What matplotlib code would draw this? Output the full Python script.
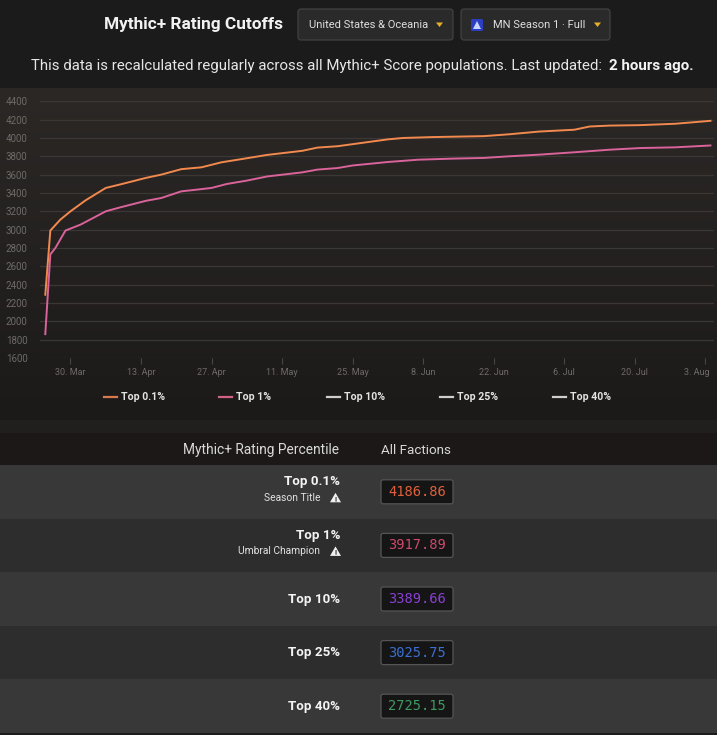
import numpy as np
import pandas as pd
import matplotlib
matplotlib.use("Agg")
import matplotlib.pyplot as plt
import matplotlib.dates as md
import matplotlib.transforms as mtrans
from matplotlib.patches import Rectangle, FancyBboxPatch, Polygon
from matplotlib.lines import Line2D
from matplotlib.ticker import FuncFormatter, MultipleLocator

plt.rcParams["font.family"] = ["Roboto", "DejaVu Sans"]

# ---- data ----
top01_dates = ["2026-03-25", "2026-03-26", "2026-03-28", "2026-03-30", "2026-04-02",
               "2026-04-06", "2026-04-09", "2026-04-14", "2026-04-17", "2026-04-21",
               "2026-04-25", "2026-04-29", "2026-05-03", "2026-05-08", "2026-05-15",
               "2026-05-18", "2026-05-22", "2026-05-28", "2026-06-01", "2026-06-04",
               "2026-06-10", "2026-06-20", "2026-06-25", "2026-07-01", "2026-07-08",
               "2026-07-11", "2026-07-15", "2026-07-21", "2026-07-28", "2026-08-04"]
top01_vals = [2290, 2990, 3110, 3200, 3320, 3455, 3495, 3565, 3600, 3660,
              3680, 3735, 3770, 3815, 3860, 3895, 3910, 3955, 3985, 4000,
              4010, 4020, 4040, 4070, 4090, 4125, 4135, 4140, 4155, 4187]

top1_dates = ["2026-03-25", "2026-03-26", "2026-03-27", "2026-03-29", "2026-04-01",
              "2026-04-06", "2026-04-09", "2026-04-14", "2026-04-17", "2026-04-21",
              "2026-04-24", "2026-04-27", "2026-04-30", "2026-05-04", "2026-05-08",
              "2026-05-15", "2026-05-18", "2026-05-22", "2026-05-25", "2026-06-01",
              "2026-06-07", "2026-06-14", "2026-06-20", "2026-06-25", "2026-07-01",
              "2026-07-08", "2026-07-15", "2026-07-21", "2026-07-28", "2026-08-04"]
top1_vals = [1860, 2730, 2800, 2990, 3055, 3200, 3245, 3315, 3345, 3418,
             3436, 3455, 3498, 3535, 3580, 3625, 3655, 3672, 3700, 3738,
             3763, 3775, 3782, 3800, 3818, 3844, 3872, 3890, 3898, 3918]

series_names = ["Top 0.1%", "Top 1%", "Top 10%", "Top 25%", "Top 40%"]
legend_colors = ["#d9794f", "#cf6286", "#cfcfcf", "#cfcfcf", "#cfcfcf"]

table_labels = ["Top 0.1%", "Top 1%", "Top 10%", "Top 25%", "Top 40%"]
table_notes = ["Season Title", "Umbral Champion", "", "", ""]
table_values = ["4186.86", "3917.89", "3389.66", "3025.75", "2725.15"]
value_colors = ["#e0603c", "#cc4a6c", "#8a3fd4", "#3d6fd0", "#3f9a62"]

W, H = 717, 735
fig = plt.figure(figsize=(W / 100, H / 100), dpi=100, facecolor="#1b1b1b")
renderer = fig.canvas.get_renderer()


def px(x):
    return x / W


def py(y):
    return 1 - y / H


def put(x, y, s, width=None, size=9, **kw):
    t = fig.text(px(x), py(y), s, fontsize=size, **kw)
    if width:
        bb = t.get_window_extent(renderer)
        t.set_fontsize(size * width / bb.width)
    return t


def rect(x0, y0, x1, y1, color, **kw):
    fig.patches.append(Rectangle((px(x0), py(y1)), px(x1) - px(x0), py(y0) - py(y1),
                                 transform=fig.transFigure, facecolor=color,
                                 edgecolor="none", **kw))


# ---- header ----
put(104, 25, "Mythic+ Rating Cutoffs", width=179, size=12, weight="bold",
    color="#f2f2f2", va="center")
for x0, x1 in [(298, 453), (461, 610)]:
    fig.patches.append(FancyBboxPatch((px(x0), py(40)), px(x1) - px(x0), py(9) - py(40),
                                      boxstyle="round,pad=0,rounding_size=0.004",
                                      transform=fig.transFigure, facecolor="#2a2a2a",
                                      edgecolor="#454545", lw=0.8))
put(309, 25, "United States & Oceania", width=119, size=8, color="#dedede", va="center")
put(493, 25, "MN Season 1 · Full", width=93, size=8, color="#dedede", va="center")
for ax0 in [436, 594]:
    fig.patches.append(Polygon([(px(ax0), py(22.5)), (px(ax0 + 7), py(22.5)),
                                (px(ax0 + 3.5), py(27))], closed=True,
                               transform=fig.transFigure, facecolor="#e8b02a",
                               edgecolor="none"))
# season icon
fig.patches.append(FancyBboxPatch((px(471), py(31)), px(12) - px(0), py(19) - py(31),
                                  boxstyle="round,pad=0,rounding_size=0.002",
                                  transform=fig.transFigure, facecolor="#2c3fc0",
                                  edgecolor="none"))
fig.patches.append(Polygon([(px(473), py(29)), (px(481), py(29)), (px(477), py(21))],
                           closed=True, transform=fig.transFigure,
                           facecolor="#c9d3ff", edgecolor="none"))

put(606, 66, "This data is recalculated regularly across all Mythic+ Score populations. Last updated: ",
    width=577, size=10, color="#e6e6e6", va="center", ha="right")
put(609, 66, "2 hours ago.", width=85, size=10, weight="bold", color="#f4f4f4",
    va="center")

# ---- chart background (gradient) ----
bg = fig.add_axes([0, py(420), 1, py(88) - py(420)])
grad = np.linspace(0, 1, 256).reshape(-1, 1)
top_c = np.array([0x2b, 0x28, 0x26]) / 255
bot_c = np.array([0x1c, 0x1a, 0x19]) / 255
img = top_c[None, None, :] * (1 - grad[:, :, None]) + bot_c[None, None, :] * grad[:, :, None]
bg.imshow(img, aspect="auto", extent=[0, 1, 0, 1])
bg.set_axis_off()

# ---- chart ----
ax = fig.add_axes([px(40), py(358), px(714) - px(40), py(101.3) - py(358)])
ax.patch.set_alpha(0)

ax.plot(pd.to_datetime(top01_dates), top01_vals, color="#f2894e", lw=1.4,
        solid_joinstyle="round", zorder=3)
ax.plot(pd.to_datetime(top1_dates), top1_vals, color="#d9639a", lw=1.4,
        solid_joinstyle="round", zorder=3)

ref = pd.Timestamp("2026-03-30")
ax.set_xlim(ref - pd.Timedelta(days=6.05), ref + pd.Timedelta(days=127.7))
ax.set_ylim(1600, 4400)
ax.yaxis.set_major_locator(MultipleLocator(200))
ax.grid(axis="y", color="#3a3735", lw=0.9)
ax.set_axisbelow(True)

ticks = pd.date_range("2026-03-30", periods=10, freq="14D")
ax.set_xticks(ticks)
ax.xaxis.set_major_formatter(FuncFormatter(
    lambda v, pos: "%d. %s" % (md.num2date(v).day, md.num2date(v).strftime("%b"))))

for s in ax.spines.values():
    s.set_visible(False)
ax.tick_params(axis="y", length=0, pad=9, labelsize=7, labelcolor="#6f6a67")
ax.tick_params(axis="x", length=4, width=0.8, color="#4a4644", pad=3,
               labelsize=6.5, labelcolor="#6f6a67")
for lab in ax.get_yticklabels():
    lab.set_horizontalalignment("right")
# keep the last date label inside the chart, like the original does
last = ax.get_xticklabels()[-1]
last.set_transform(last.get_transform() +
                   mtrans.ScaledTranslation(-9 / 100, 0, fig.dpi_scale_trans))

# ---- legend ----
leg_x = [104, 219, 327, 440, 553]
for name, c, x in zip(series_names, legend_colors, leg_x):
    fig.lines.append(Line2D([px(x), px(x + 13)], [py(397), py(397)],
                            transform=fig.transFigure, color=c, lw=1.6))
    put(x + 17, 397, name, size=7.6, weight="bold", color="#e4e4e4", va="center")

# ---- table ----
rect(0, 420, W, 433, "#211f1e")
rect(0, 433, W, 465, "#1c1817")
put(261, 450, "Mythic+ Rating Percentile", width=157, size=9, color="#d9d9d9",
    va="center", ha="center")
put(416, 450, "All Factions", width=70, size=9, color="#d9d9d9", va="center",
    ha="center")

row_h = 53.6
for i, (lab, note, val, vc) in enumerate(zip(table_labels, table_notes,
                                              table_values, value_colors)):
    y0 = 465 + i * row_h
    rect(0, y0, W, y0 + row_h, "#383838" if i % 2 == 0 else "#2d2d2d")
    cy = y0 + row_h / 2
    if note:
        put(340, cy - 10, lab, size=9.6, weight="bold", color="#f4f4f4",
            va="center", ha="right")
        put(320, cy + 6, note, size=7.4, color="#e2e2e2", va="center", ha="right")
        tx = 335.5
        fig.patches.append(Polygon([(px(tx - 5.5), py(cy + 10.5)), (px(tx + 5.5), py(cy + 10.5)),
                                    (px(tx), py(cy + 1))], closed=True,
                                   transform=fig.transFigure, facecolor="#f0f0f0",
                                   edgecolor="none"))
        put(tx, cy + 7.2, "!", size=5.5, weight="bold", color="#333333",
            va="center", ha="center")
    else:
        put(340, cy, lab, size=9.6, weight="bold", color="#f4f4f4",
            va="center", ha="right")
    fig.patches.append(FancyBboxPatch((px(381), py(cy + 12)), px(72), py(0) - py(24),
                                      boxstyle="round,pad=0,rounding_size=0.003",
                                      transform=fig.transFigure, facecolor="#151515",
                                      edgecolor="#555555", lw=0.9))
    put(417, cy, val, width=58, size=10, color=vc, va="center", ha="center",
        family="DejaVu Sans Mono")

rect(0, 733, W, H, "#1b1b1b")

fig.savefig("out.png", dpi=100, facecolor=fig.get_facecolor())
